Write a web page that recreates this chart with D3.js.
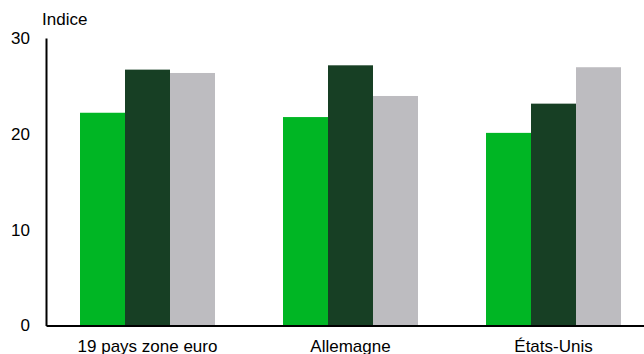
<!DOCTYPE html>
<html>
<head>
<meta charset="utf-8">
<script src="https://cdn.jsdelivr.net/npm/d3@7"></script>
<style>
  body { margin: 0; background: #fff; }
  text { font-family: "Liberation Sans", Arial, sans-serif; fill: #000; }
</style>
</head>
<body>
<div id="chart"></div>
<script>
// data
var categories = ["19 pays zone euro", "Allemagne", "États-Unis"];
var series = ["s1", "s2", "s3"];
var s1 = [22.2, 21.75, 20.1];
var s2 = [26.7, 27.15, 23.15];
var s3 = [26.35, 23.95, 26.95];
var yTicks = [0, 10, 20, 30];
var colors = ["#00b624", "#173f24", "#bdbcc0"];

var width = 644, height = 354;
var margin = {top: 38, left: 46, bottom: 28.5};

var svg = d3.select("#chart").append("svg")
    .attr("width", width)
    .attr("height", height);

var x0 = d3.scaleBand()
    .domain(categories)
    .range([margin.left, 655])
    .paddingInner(0.335)
    .paddingOuter(0.1675);

var x1 = d3.scaleBand()
    .domain(series)
    .range([0, x0.bandwidth()]);

var y = d3.scaleLinear()
    .domain([0, 30])
    .range([height - margin.bottom, margin.top]);

var rows = categories.map(function(c, i) {
    return {cat: c, vals: [s1[i], s2[i], s3[i]]};
});

var groups = svg.selectAll("g.grp")
    .data(rows)
    .enter().append("g")
    .attr("class", "grp")
    .attr("transform", function(d) { return "translate(" + x0(d.cat) + ",0)"; });

groups.selectAll("rect")
    .data(function(d) { return d.vals; })
    .enter().append("rect")
    .attr("x", function(d, i) { return x1(series[i]); })
    .attr("width", x1.bandwidth())
    .attr("y", function(d) { return y(d); })
    .attr("height", function(d) { return y(0) - y(d); })
    .style("fill", function(d, i) { return colors[i]; });

// y axis
var yAxis = svg.append("g")
    .attr("transform", "translate(" + margin.left + ",0)")
    .call(d3.axisLeft(y).tickValues(yTicks).tickSize(0).tickPadding(16));
yAxis.select(".domain").attr("stroke", "#000").attr("stroke-width", 2);
yAxis.selectAll("text").style("font-size", "17px")
    .style("font-family", "'Liberation Sans', Arial, sans-serif");

// x axis
var xAxis = svg.append("g")
    .attr("transform", "translate(0," + y(0) + ")")
    .call(d3.axisBottom(x0).tickSize(0).tickPadding(14));
xAxis.select(".domain").attr("stroke", "#000").attr("stroke-width", 2);
xAxis.selectAll("text").style("font-size", "17px")
    .style("font-family", "'Liberation Sans', Arial, sans-serif");

svg.append("text")
    .attr("x", 42)
    .attr("y", 25)
    .style("font-size", "17px")
    .text("Indice");
</script>
</body>
</html>
